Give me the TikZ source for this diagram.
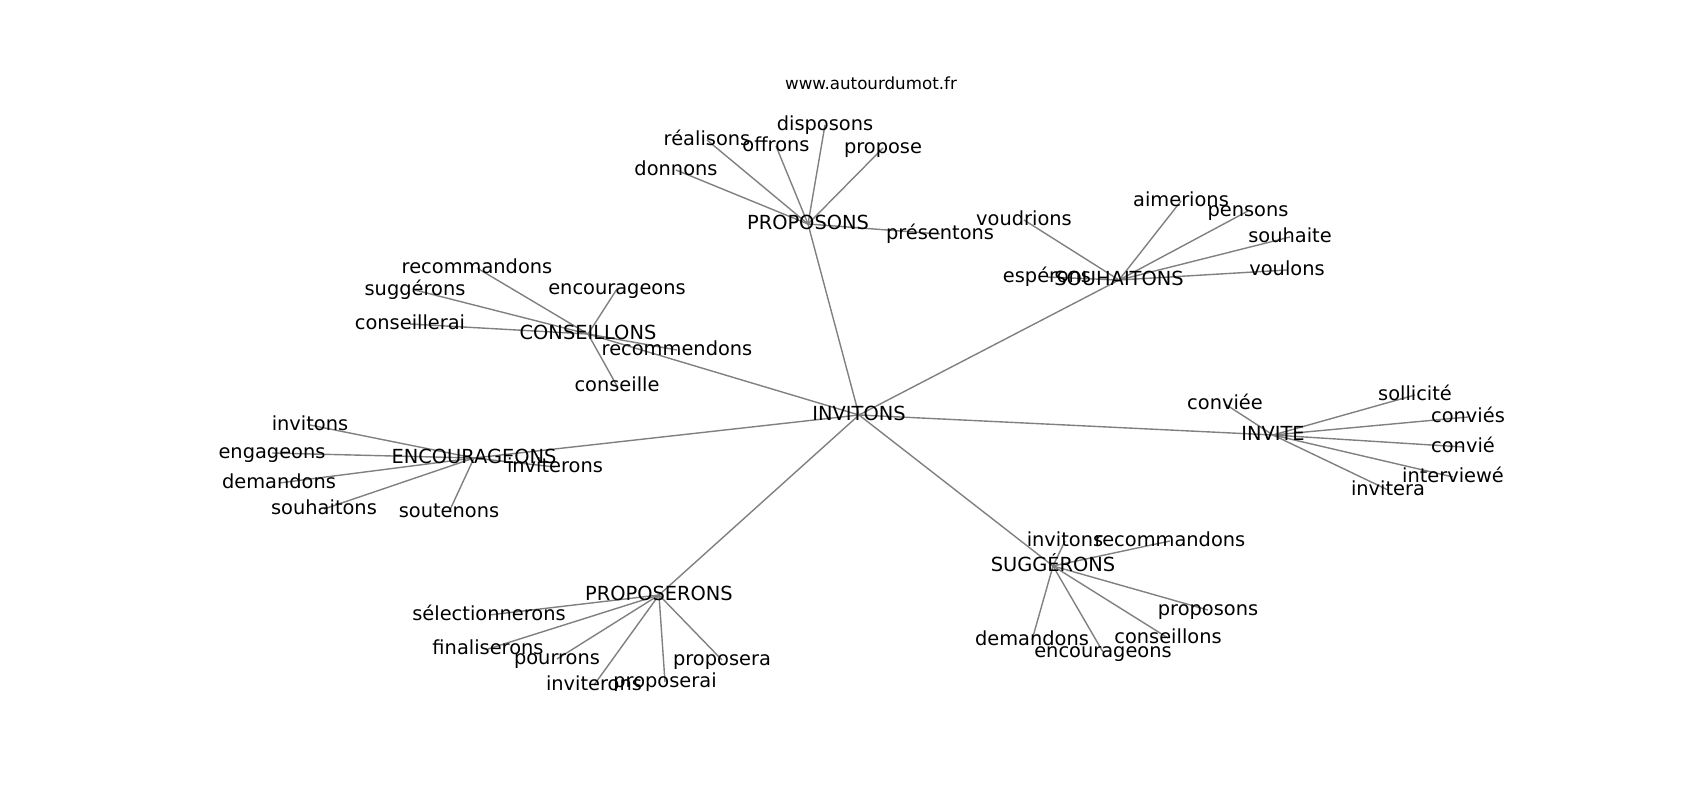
\documentclass[tikz,border=0pt]{standalone}
\usepackage{fontspec}
\setmainfont{DejaVu Sans}
\usetikzlibrary{backgrounds}
\definecolor{edgegray}{HTML}{808080}
\tikzset{
  word/.style={inner sep=0pt, text height=14.7pt, text depth=4.7pt,
    font=\fontsize{19.4}{23}\selectfont},
  site/.style={inner sep=0pt, text height=12.7pt, text depth=4pt,
    font=\fontsize{16.7}{20}\selectfont},
  link/.style={draw=edgegray, line width=1.4pt}
}
\begin{document}
\begin{tikzpicture}[x=1pt,y=-1pt,every node/.style={word}]
      \useasboundingbox (0,-2) rectangle (1700,798);
      \node[site] (t) at (871,83) {www.autourdumot.fr};
      \draw
        (859,413) node (0){INVITONS}
        (808,222) node (1){PROPOSONS}
        (1119,278) node (2){SOUHAITONS}
        (588,332) node (3){CONSEILLONS}
        (474,456) node (4){ENCOURAGEONS}
        (1273,433) node (5){INVITE}
        (1053,564) node (6){SUGGÉRONS}
        (659,593) node (7){PROPOSERONS}
        (676,168) node (8){donnons}
        (707,138) node (9){réalisons}
        (776,144) node (10){offrons}
        (825,123) node (11){disposons}
        (883,146) node (12){propose}
        (940,232) node (13){présentons}
        (1024,218) node (14){voudrions}
        (1181,199) node (15){aimerions}
        (1248,209) node (16){pensons}
        (1290,235) node (17){souhaite}
        (1287,268) node (18){voulons}
        (1047,275) node (19){espérons}
        (477,266) node (20){recommandons}
        (415,288) node (21){suggérons}
        (617,287) node (22){encourageons}
        (410,322) node (23){conseillerai}
        (677,348) node (24){recommendons}
        (617,384) node (25){conseille}
        (310,423) node (26){invitons}
        (272,451) node (27){engageons}
        (279,481) node (28){demandons}
        (324,507) node (29){souhaitons}
        (449,510) node (30){soutenons}
        (555,465) node (31){inviterons}
        (1225,402) node (32){conviée}
        (1415,393) node (33){sollicité}
        (1468,415) node (34){conviés}
        (1463,445) node (35){convié}
        (1453,475) node (36){interviewé}
        (1388,488) node (37){invitera}
        (1065,539) node (38){invitons}
        (1170,539) node (39){recommandons}
        (1208,608) node (40){proposons}
        (1168,636) node (41){conseillons}
        (1032,638) node (42){demandons}
        (1103,650) node (43){encourageons}
        (489,613) node (44){sélectionnerons}
        (488,647) node (45){finaliserons}
        (557,657) node (46){pourrons}
        (594,683) node (47){inviterons}
        (665,680) node (48){proposerai}
        (722,658) node (49){proposera};
      \begin{scope}[-, on background layer]
        \foreach \j in {1,...,7}
          \draw[link] (0.center) to (\j.center);
        \foreach \j in {8,...,13}
          \draw[link] (1.center) to (\j.center);
        \foreach \j in {14,...,19}
          \draw[link] (2.center) to (\j.center);
        \foreach \j in {20,...,25}
          \draw[link] (3.center) to (\j.center);
        \foreach \j in {26,...,31}
          \draw[link] (4.center) to (\j.center);
        \foreach \j in {32,...,37}
          \draw[link] (5.center) to (\j.center);
        \foreach \j in {38,...,43}
          \draw[link] (6.center) to (\j.center);
        \foreach \j in {44,...,49}
          \draw[link] (7.center) to (\j.center);
      \end{scope}
    \end{tikzpicture}
\end{document}
